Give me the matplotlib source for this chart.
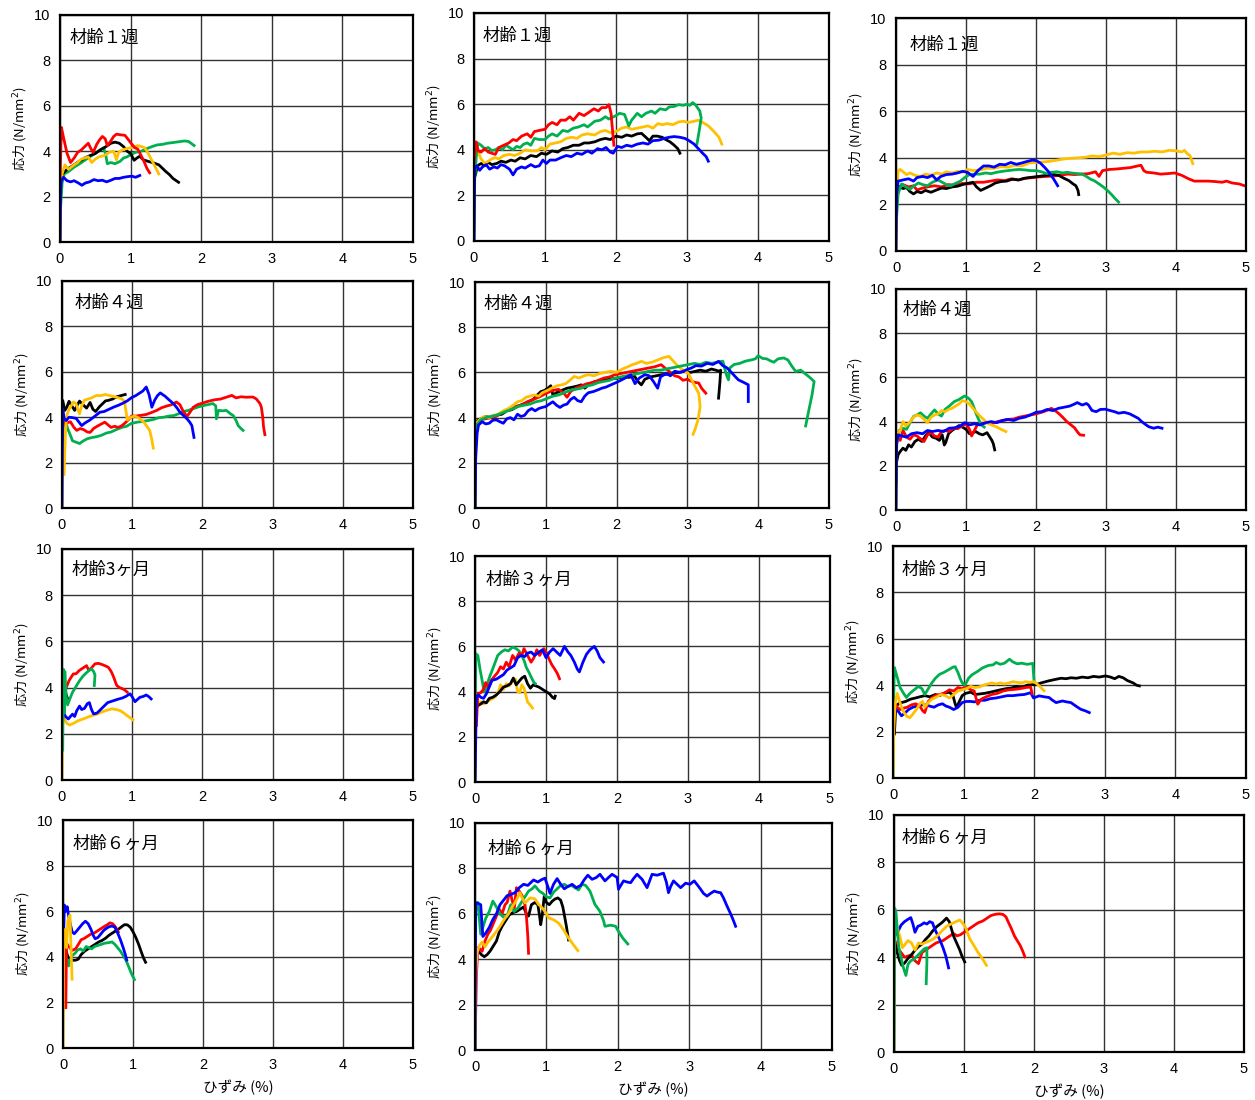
import matplotlib.pyplot as plt

plt.rcParams['font.family'] = ['Noto Sans CJK JP', 'DejaVu Sans']

W, H = 1255, 1100

RED = '#FF0000'
GREEN = '#00B050'
BLUE = '#0000FF'
YELLOW = '#FFC000'
BLACK = '#000000'

# (strain %, stress N/mm2)
# ---- row 1 : 1 week ----
r1a_red = [(0.0, 2.7), (0.02, 5.05), (0.05, 4.6), (0.1, 3.9), (0.15, 3.5), (0.2, 3.7), (0.25, 3.95), (0.3, 4.05),
           (0.35, 4.2), (0.4, 4.35), (0.44, 4.1), (0.47, 3.95), (0.52, 4.3), (0.56, 4.5), (0.6, 4.65), (0.64, 4.55),
           (0.67, 4.25), (0.72, 4.45), (0.76, 4.65), (0.8, 4.75), (0.86, 4.72), (0.92, 4.7), (0.97, 4.5), (1.02, 4.3),
           (1.06, 4.15), (1.1, 4.1), (1.15, 3.8), (1.19, 3.55), (1.23, 3.25), (1.27, 3.05)]
r1a_black = [(0.0, 0.0), (0.01, 2.9), (0.05, 3.05), (0.1, 3.2), (0.15, 3.3), (0.2, 3.4), (0.27, 3.55), (0.35, 3.7),
             (0.42, 3.8), (0.5, 3.9), (0.57, 4.05), (0.65, 4.2), (0.72, 4.35), (0.78, 4.4), (0.84, 4.35), (0.9, 4.2),
             (0.95, 4.0), (1.0, 3.9), (1.05, 3.6), (1.09, 3.7), (1.13, 3.78), (1.18, 3.62), (1.25, 3.55), (1.33, 3.48),
             (1.4, 3.4), (1.45, 3.25), (1.5, 3.1), (1.55, 2.97), (1.6, 2.8), (1.68, 2.63)]
r1a_green = [(0.01, 1.6), (0.03, 2.6), (0.06, 3.0), (0.12, 3.1), (0.2, 3.3), (0.28, 3.45), (0.35, 3.6), (0.42, 3.75),
             (0.5, 3.9), (0.56, 4.05), (0.62, 4.15), (0.65, 3.8), (0.67, 3.45), (0.72, 3.5), (0.78, 3.45), (0.85, 3.55),
             (0.9, 3.7), (0.95, 3.75), (1.0, 3.85), (1.07, 3.95), (1.15, 4.0), (1.22, 4.1), (1.3, 4.2), (1.38, 4.28),
             (1.45, 4.3), (1.52, 4.35), (1.6, 4.38), (1.69, 4.42), (1.76, 4.45), (1.82, 4.43), (1.9, 4.25)]
r1a_yellow = [(0.0, 0.0), (0.01, 2.5), (0.03, 3.0), (0.07, 3.4), (0.12, 3.2), (0.18, 3.35), (0.25, 3.5), (0.3, 3.65),
              (0.35, 3.7), (0.4, 3.75), (0.45, 3.5), (0.5, 3.65), (0.55, 3.75), (0.62, 3.8), (0.7, 3.95), (0.76, 4.0),
              (0.8, 3.62), (0.83, 3.95), (0.88, 4.05), (0.95, 4.12), (1.02, 4.15), (1.1, 4.25), (1.16, 4.2),
              (1.2, 4.15), (1.25, 3.9), (1.3, 3.6), (1.35, 3.3), (1.4, 3.0)]
r1a_blue = [(0.0, 0.0), (0.01, 2.3), (0.02, 2.7), (0.05, 2.85), (0.1, 2.7), (0.15, 2.65), (0.2, 2.7), (0.26, 2.6),
            (0.31, 2.5), (0.36, 2.6), (0.42, 2.65), (0.48, 2.75), (0.54, 2.7), (0.6, 2.72), (0.66, 2.65), (0.72, 2.72),
            (0.78, 2.8), (0.84, 2.8), (0.9, 2.85), (0.96, 2.88), (1.02, 2.9), (1.07, 2.85), (1.13, 2.93)]

r1b_red = [(0.0, 3.5), (0.03, 4.35), (0.06, 3.95), (0.1, 3.9), (0.15, 4.05), (0.2, 3.9), (0.25, 3.85), (0.3, 3.8),
           (0.35, 4.1), (0.42, 4.2), (0.49, 4.3), (0.55, 4.45), (0.6, 4.4), (0.67, 4.6), (0.75, 4.7), (0.8, 4.55),
           (0.85, 4.8), (0.92, 4.85), (1.0, 4.9), (1.05, 5.1), (1.1, 5.2), (1.17, 5.1), (1.22, 5.3), (1.29, 5.3),
           (1.35, 5.45), (1.4, 5.3), (1.48, 5.6), (1.55, 5.5), (1.62, 5.65), (1.69, 5.8), (1.75, 5.7), (1.8, 5.85),
           (1.86, 5.85), (1.9, 5.98), (1.93, 5.6), (1.95, 4.9), (1.97, 4.2)]
r1b_green = [(0.0, 0.0), (0.01, 2.7), (0.03, 3.6), (0.05, 4.3), (0.1, 4.2), (0.15, 4.05), (0.2, 4.1), (0.25, 3.97),
             (0.3, 4.0), (0.35, 4.1), (0.4, 4.0), (0.45, 4.2), (0.5, 4.1), (0.55, 4.0), (0.6, 4.15), (0.65, 4.1),
             (0.7, 4.25), (0.75, 4.3), (0.8, 4.2), (0.85, 4.5), (0.92, 4.45), (1.0, 4.45), (1.05, 4.6), (1.1, 4.7),
             (1.17, 4.6), (1.25, 4.85), (1.32, 4.8), (1.4, 4.95), (1.47, 5.0), (1.55, 5.1), (1.6, 5.0), (1.7, 5.25),
             (1.78, 5.3), (1.85, 5.45), (1.9, 5.35), (2.0, 5.5), (2.05, 5.6), (2.12, 5.55), (2.18, 5.05), (2.22, 5.3),
             (2.3, 5.6), (2.36, 5.45), (2.42, 5.6), (2.5, 5.7), (2.55, 5.6), (2.62, 5.8), (2.7, 5.75), (2.75, 5.88),
             (2.82, 5.9), (2.88, 5.98), (2.95, 5.95), (3.0, 6.0), (3.04, 5.95), (3.08, 6.07), (3.12, 5.97),
             (3.18, 5.7), (3.2, 5.4), (3.17, 4.8), (3.14, 4.25)]
r1b_yellow = [(0.0, 3.5), (0.02, 3.75), (0.05, 3.95), (0.1, 3.6), (0.15, 3.4), (0.2, 3.5), (0.25, 3.6), (0.3, 3.65),
              (0.35, 3.6), (0.42, 3.75), (0.5, 3.8), (0.57, 3.75), (0.65, 3.85), (0.72, 4.0), (0.8, 3.95), (0.89, 3.95),
              (0.95, 4.1), (1.0, 4.0), (1.07, 4.25), (1.15, 4.3), (1.22, 4.35), (1.3, 4.5), (1.38, 4.55), (1.45, 4.5),
              (1.52, 4.65), (1.6, 4.7), (1.7, 4.65), (1.78, 4.8), (1.85, 4.85), (1.92, 4.75), (2.0, 4.8), (2.08, 4.95),
              (2.15, 5.0), (2.22, 4.9), (2.3, 4.95), (2.38, 5.0), (2.45, 5.05), (2.52, 4.95), (2.59, 5.15), (2.65, 5.1),
              (2.72, 5.15), (2.8, 5.1), (2.88, 5.22), (2.95, 5.25), (3.02, 5.2), (3.1, 5.25), (3.16, 5.3), (3.22, 5.2),
              (3.3, 5.05), (3.38, 4.8), (3.45, 4.55), (3.49, 4.25)]
r1b_blue = [(0.0, 0.0), (0.01, 3.2), (0.04, 3.3), (0.08, 3.1), (0.12, 3.25), (0.17, 3.35), (0.22, 3.15), (0.28, 3.25),
            (0.33, 3.2), (0.38, 3.35), (0.43, 3.3), (0.5, 3.15), (0.55, 2.9), (0.6, 3.15), (0.67, 3.25), (0.72, 3.2),
            (0.8, 3.35), (0.86, 3.25), (0.92, 3.3), (0.97, 3.55), (1.02, 3.4), (1.07, 3.55), (1.15, 3.55), (1.22, 3.65),
            (1.3, 3.75), (1.37, 3.7), (1.45, 3.85), (1.52, 3.8), (1.6, 3.95), (1.66, 3.85), (1.74, 4.05), (1.8, 4.0),
            (1.86, 4.1), (1.92, 3.9), (1.96, 3.85), (2.02, 4.15), (2.08, 4.1), (2.15, 4.2), (2.22, 4.15), (2.3, 4.25),
            (2.38, 4.3), (2.45, 4.25), (2.52, 4.4), (2.6, 4.42), (2.68, 4.5), (2.75, 4.55), (2.82, 4.58), (2.9, 4.55),
            (2.97, 4.5), (3.03, 4.4), (3.1, 4.25), (3.16, 4.05), (3.22, 3.85), (3.27, 3.7), (3.3, 3.5)]
r1b_black = [(0.02, 2.9), (0.05, 3.3), (0.1, 3.4), (0.15, 3.3), (0.2, 3.45), (0.25, 3.35), (0.32, 3.4), (0.38, 3.5),
             (0.45, 3.45), (0.52, 3.55), (0.58, 3.5), (0.65, 3.65), (0.72, 3.6), (0.8, 3.75), (0.88, 3.7), (0.95, 3.85),
             (1.02, 3.8), (1.1, 3.95), (1.18, 3.9), (1.25, 4.05), (1.32, 4.1), (1.4, 4.2), (1.48, 4.2), (1.55, 4.3),
             (1.62, 4.3), (1.7, 4.35), (1.78, 4.45), (1.85, 4.5), (1.92, 4.45), (2.0, 4.6), (2.08, 4.55), (2.15, 4.65),
             (2.22, 4.6), (2.3, 4.7), (2.36, 4.72), (2.42, 4.55), (2.47, 4.4), (2.52, 4.6), (2.58, 4.6), (2.65, 4.55),
             (2.7, 4.45), (2.76, 4.35), (2.82, 4.2), (2.87, 4.05), (2.9, 3.85)]

r1c_yellow = [(0.0, 0.0), (0.01, 2.3), (0.03, 3.45), (0.06, 3.5), (0.1, 3.4), (0.15, 3.28), (0.2, 3.35), (0.27, 3.25),
              (0.35, 3.2), (0.42, 3.3), (0.5, 3.25), (0.58, 3.35), (0.65, 3.3), (0.72, 3.4), (0.8, 3.35), (0.88, 3.42),
              (0.95, 3.38), (1.02, 3.5), (1.1, 3.45), (1.2, 3.48), (1.3, 3.55), (1.4, 3.55), (1.5, 3.62), (1.6, 3.6),
              (1.7, 3.68), (1.8, 3.65), (1.9, 3.78), (2.0, 3.8), (2.1, 3.82), (2.2, 3.85), (2.3, 3.9), (2.4, 3.95),
              (2.5, 3.98), (2.6, 4.0), (2.7, 4.02), (2.8, 4.08), (2.9, 4.05), (3.0, 4.12), (3.1, 4.2), (3.2, 4.15),
              (3.3, 4.22), (3.4, 4.2), (3.5, 4.25), (3.6, 4.25), (3.7, 4.28), (3.8, 4.25), (3.9, 4.32), (4.0, 4.3),
              (4.08, 4.25), (4.12, 4.32), (4.17, 4.15), (4.2, 4.1), (4.24, 3.75)]
r1c_red = [(0.02, 2.3), (0.04, 2.75), (0.1, 2.85), (0.18, 2.75), (0.25, 2.8), (0.3, 2.62), (0.38, 2.7), (0.45, 2.75),
           (0.55, 2.8), (0.65, 2.75), (0.75, 2.85), (0.85, 2.82), (0.95, 2.9), (1.05, 2.88), (1.15, 2.95), (1.25, 2.95),
           (1.35, 3.0), (1.45, 3.05), (1.55, 3.02), (1.65, 3.1), (1.75, 3.05), (1.85, 3.12), (1.95, 3.15), (2.05, 3.18),
           (2.15, 3.2), (2.25, 3.22), (2.35, 3.25), (2.45, 3.3), (2.55, 3.28), (2.65, 3.3), (2.75, 3.32), (2.85, 3.4),
           (2.9, 3.2), (2.95, 3.45), (3.05, 3.5), (3.15, 3.52), (3.25, 3.55), (3.35, 3.58), (3.45, 3.65), (3.5, 3.68),
           (3.54, 3.45), (3.58, 3.38), (3.68, 3.35), (3.78, 3.3), (3.88, 3.32), (3.98, 3.35), (4.08, 3.25),
           (4.18, 3.1), (4.26, 3.0), (4.36, 3.0), (4.46, 3.0), (4.56, 2.98), (4.66, 2.95), (4.72, 3.0), (4.8, 2.92),
           (4.9, 2.88), (4.98, 2.8)]
r1c_blue = [(0.0, 0.0), (0.01, 2.4), (0.03, 3.0), (0.1, 3.05), (0.18, 3.1), (0.25, 3.0), (0.3, 3.15), (0.38, 3.2),
            (0.45, 3.15), (0.52, 3.25), (0.58, 3.05), (0.64, 3.2), (0.72, 3.28), (0.8, 3.3), (0.88, 3.35), (0.95, 3.42),
            (1.02, 3.38), (1.1, 3.2), (1.17, 3.45), (1.25, 3.65), (1.33, 3.65), (1.4, 3.6), (1.48, 3.72), (1.56, 3.7),
            (1.64, 3.8), (1.72, 3.72), (1.8, 3.78), (1.88, 3.85), (1.95, 3.9), (2.0, 3.88), (2.06, 3.78), (2.12, 3.6),
            (2.18, 3.4), (2.25, 3.1), (2.31, 2.8)]
r1c_black = [(0.02, 2.6), (0.05, 2.75), (0.1, 2.68), (0.15, 2.72), (0.2, 2.55), (0.25, 2.45), (0.3, 2.55), (0.36, 2.5),
             (0.42, 2.6), (0.5, 2.52), (0.58, 2.62), (0.65, 2.7), (0.72, 2.68), (0.8, 2.75), (0.88, 2.78), (0.95, 2.85),
             (1.02, 2.9), (1.1, 2.95), (1.15, 2.75), (1.21, 2.6), (1.28, 2.7), (1.35, 2.8), (1.42, 2.92), (1.5, 2.98),
             (1.58, 3.0), (1.66, 3.08), (1.75, 3.05), (1.83, 3.12), (1.9, 3.15), (1.98, 3.18), (2.08, 3.22),
             (2.16, 3.25), (2.25, 3.28), (2.32, 3.25), (2.4, 3.12), (2.47, 3.02), (2.52, 2.9), (2.57, 2.8), (2.6, 2.6),
             (2.61, 2.42)]
r1c_green = [(0.01, 1.5), (0.03, 2.45), (0.08, 2.88), (0.14, 2.75), (0.2, 2.65), (0.26, 2.8), (0.32, 2.92), (0.38, 2.85),
             (0.45, 2.8), (0.52, 2.95), (0.6, 3.05), (0.66, 2.95), (0.72, 2.85), (0.78, 2.8), (0.85, 2.9), (0.92, 3.0),
             (0.98, 3.15), (1.05, 3.28), (1.12, 3.3), (1.2, 3.3), (1.28, 3.35), (1.36, 3.32), (1.44, 3.38),
             (1.52, 3.42), (1.6, 3.45), (1.68, 3.48), (1.76, 3.5), (1.84, 3.48), (1.92, 3.45), (2.0, 3.45),
             (2.08, 3.4), (2.15, 3.32), (2.22, 3.38), (2.3, 3.4), (2.38, 3.35), (2.45, 3.38), (2.52, 3.34), (2.6, 3.32),
             (2.66, 3.3), (2.72, 3.2), (2.78, 3.08), (2.83, 3.02), (2.9, 2.88), (2.96, 2.75), (3.02, 2.6),
             (3.08, 2.42), (3.13, 2.25), (3.18, 2.1)]

# ---- row 2 : 4 weeks ----
r2a_red = [(0.01, 3.5), (0.03, 3.9), (0.07, 3.75), (0.12, 3.8), (0.17, 3.55), (0.21, 3.42), (0.26, 3.5), (0.31, 3.45),
           (0.36, 3.35), (0.4, 3.33), (0.45, 3.5), (0.5, 3.6), (0.56, 3.7), (0.61, 3.78), (0.66, 3.65), (0.7, 3.55),
           (0.75, 3.6), (0.8, 3.55), (0.85, 3.62), (0.9, 3.75), (0.95, 3.9), (0.99, 4.05), (1.05, 4.05), (1.12, 4.08),
           (1.2, 4.12), (1.27, 4.2), (1.35, 4.3), (1.42, 4.42), (1.5, 4.5), (1.56, 4.55), (1.63, 4.67), (1.68, 4.55),
           (1.72, 4.3), (1.78, 4.03), (1.83, 4.25), (1.87, 4.44), (1.93, 4.55), (2.0, 4.62), (2.08, 4.7), (2.18, 4.77),
           (2.26, 4.8), (2.34, 4.88), (2.42, 4.96), (2.48, 4.85), (2.55, 4.9), (2.62, 4.88), (2.72, 4.89), (2.77, 4.8),
           (2.82, 4.6), (2.84, 4.44), (2.86, 4.0), (2.87, 3.6), (2.89, 3.23)]
r2a_blue = [(0.0, 0.0), (0.01, 4.37), (0.03, 3.95), (0.06, 3.85), (0.1, 4.0), (0.15, 3.98), (0.2, 3.95), (0.25, 3.75),
            (0.28, 3.63), (0.33, 3.75), (0.4, 3.88), (0.47, 4.05), (0.54, 4.22), (0.6, 4.25), (0.67, 4.35), (0.74, 4.45),
            (0.8, 4.52), (0.87, 4.62), (0.93, 4.72), (0.99, 4.86), (1.05, 4.95), (1.1, 5.05), (1.15, 5.15), (1.2, 5.33),
            (1.24, 5.0), (1.28, 4.44), (1.32, 4.75), (1.36, 4.95), (1.4, 5.07), (1.47, 4.92), (1.53, 4.75),
            (1.59, 4.59), (1.64, 4.4), (1.68, 4.22), (1.74, 4.05), (1.78, 3.93), (1.82, 3.78), (1.85, 3.63),
            (1.88, 3.11)]
r2a_black = [(0.0, 4.4), (0.01, 4.74), (0.04, 4.3), (0.07, 4.45), (0.1, 4.7), (0.14, 4.5), (0.18, 4.3), (0.22, 4.55),
             (0.25, 4.71), (0.3, 4.55), (0.35, 4.4), (0.4, 4.65), (0.44, 4.35), (0.48, 4.25), (0.53, 4.45), (0.58, 4.6),
             (0.62, 4.72), (0.66, 4.74), (0.72, 4.8), (0.78, 4.9), (0.84, 4.95), (0.9, 5.0)]
r2a_yellow = [(0.03, 1.48), (0.05, 3.4), (0.07, 4.1), (0.1, 4.35), (0.13, 4.5), (0.16, 4.67), (0.2, 4.6), (0.23, 4.3),
              (0.25, 4.15), (0.28, 4.5), (0.32, 4.75), (0.37, 4.8), (0.42, 4.85), (0.49, 4.96), (0.55, 4.95),
              (0.62, 5.0), (0.68, 4.95), (0.75, 4.9), (0.81, 4.85), (0.85, 4.81), (0.89, 4.7), (0.91, 4.3),
              (0.93, 3.88), (0.98, 4.0), (1.04, 4.05), (1.1, 3.95), (1.16, 3.8), (1.21, 3.6), (1.25, 3.41),
              (1.28, 3.0), (1.3, 2.64)]
r2a_green = [(0.01, 3.0), (0.02, 3.7), (0.05, 3.85), (0.08, 3.5), (0.12, 3.2), (0.15, 2.96), (0.2, 2.9), (0.25, 2.84),
             (0.3, 2.95), (0.36, 3.05), (0.42, 3.1), (0.49, 3.14), (0.56, 3.2), (0.63, 3.3), (0.7, 3.35), (0.77, 3.45),
             (0.85, 3.55), (0.92, 3.6), (0.99, 3.73), (1.07, 3.78), (1.15, 3.82), (1.22, 3.85), (1.3, 3.9),
             (1.38, 3.98), (1.45, 4.0), (1.52, 4.05), (1.59, 4.07), (1.66, 4.15), (1.73, 4.25), (1.8, 4.3),
             (1.87, 4.38), (1.94, 4.45), (2.0, 4.5), (2.07, 4.55), (2.15, 4.6), (2.19, 4.5), (2.2, 3.93), (2.23, 4.3),
             (2.29, 4.28), (2.34, 4.3), (2.4, 4.15), (2.44, 4.07), (2.48, 3.85), (2.51, 3.63), (2.55, 3.5),
             (2.58, 3.42)]

r2b_black = [(0.0, 0.0), (0.01, 3.0), (0.03, 3.85), (0.08, 3.95), (0.15, 4.05), (0.22, 4.0), (0.3, 4.1), (0.38, 4.15),
             (0.45, 4.3), (0.52, 4.35), (0.6, 4.5), (0.68, 4.6), (0.75, 4.7), (0.82, 4.8), (0.88, 5.0), (0.93, 5.15),
             (0.98, 5.2), (1.03, 5.3), (1.07, 5.41), (1.1, 5.0), (1.15, 5.1), (1.22, 5.2), (1.3, 5.3), (1.38, 5.35),
             (1.45, 5.4), (1.5, 5.45), (1.55, 5.3), (1.62, 5.5), (1.7, 5.6), (1.78, 5.62), (1.86, 5.7), (1.94, 5.72),
             (2.02, 5.75), (2.1, 5.8), (2.18, 5.78), (2.25, 5.85), (2.3, 5.6), (2.35, 5.45), (2.4, 5.7), (2.48, 5.8),
             (2.56, 5.85), (2.64, 5.9), (2.72, 5.92), (2.8, 5.98), (2.88, 6.0), (2.96, 6.05), (3.04, 6.0),
             (3.1, 6.04), (3.18, 6.1), (3.26, 6.05), (3.34, 6.15), (3.4, 6.1), (3.45, 6.05), (3.47, 6.1), (3.46, 5.6),
             (3.44, 4.86)]
r2b_red = [(0.0, 0.0), (0.01, 3.2), (0.03, 3.8), (0.08, 3.9), (0.15, 3.95), (0.22, 4.0), (0.3, 4.05), (0.36, 4.2),
           (0.42, 4.3), (0.5, 4.35), (0.58, 4.5), (0.66, 4.55), (0.74, 4.7), (0.82, 4.8), (0.9, 4.9), (0.96, 5.0),
           (1.02, 5.1), (1.1, 5.2), (1.18, 5.25), (1.25, 5.1), (1.3, 4.9), (1.35, 5.15), (1.42, 5.3), (1.5, 5.4),
           (1.58, 5.5), (1.66, 5.55), (1.74, 5.65), (1.82, 5.75), (1.9, 5.8), (1.98, 5.9), (2.06, 5.95), (2.14, 6.0),
           (2.22, 6.05), (2.3, 6.1), (2.38, 6.15), (2.46, 6.2), (2.54, 6.25), (2.63, 6.34), (2.7, 6.15), (2.76, 6.0),
           (2.82, 5.85), (2.88, 5.8), (2.94, 5.65), (3.0, 5.7), (3.06, 5.6), (3.12, 5.55), (3.16, 5.53), (3.2, 5.3),
           (3.26, 5.08)]
r2b_yellow = [(0.0, 0.0), (0.01, 3.3), (0.03, 3.8), (0.08, 3.95), (0.14, 4.05), (0.2, 4.0), (0.26, 4.1), (0.33, 4.15),
              (0.4, 4.3), (0.47, 4.4), (0.54, 4.55), (0.6, 4.7), (0.66, 4.75), (0.72, 4.9), (0.78, 4.95), (0.84, 5.0),
              (0.9, 4.95), (0.95, 5.1), (1.02, 5.2), (1.08, 5.3), (1.15, 5.4), (1.22, 5.45), (1.28, 5.5), (1.34, 5.65),
              (1.4, 5.82), (1.47, 5.75), (1.54, 5.85), (1.6, 5.9), (1.68, 5.85), (1.76, 5.95), (1.84, 6.0),
              (1.92, 6.05), (2.0, 6.0), (2.08, 6.15), (2.16, 6.25), (2.22, 6.34), (2.28, 6.4), (2.35, 6.49),
              (2.42, 6.4), (2.5, 6.45), (2.58, 6.55), (2.66, 6.65), (2.74, 6.71), (2.8, 6.5), (2.87, 6.27),
              (2.94, 6.1), (3.01, 5.97), (3.06, 5.67), (3.12, 5.3), (3.16, 5.08), (3.18, 4.49), (3.15, 3.9),
              (3.11, 3.5), (3.08, 3.26)]
r2b_green = [(0.0, 0.0), (0.01, 3.0), (0.03, 3.7), (0.08, 3.9), (0.15, 4.0), (0.22, 4.05), (0.3, 4.1), (0.38, 4.2),
             (0.46, 4.3), (0.54, 4.4), (0.62, 4.5), (0.7, 4.55), (0.78, 4.6), (0.86, 4.7), (0.94, 4.75), (1.02, 4.85),
             (1.1, 4.95), (1.18, 5.0), (1.26, 5.1), (1.34, 5.2), (1.42, 5.25), (1.5, 5.3), (1.58, 5.4), (1.66, 5.45),
             (1.74, 5.55), (1.82, 5.6), (1.9, 5.65), (1.98, 5.75), (2.06, 5.8), (2.14, 5.85), (2.22, 5.9),
             (2.3, 5.95), (2.38, 6.0), (2.46, 6.05), (2.54, 6.1), (2.62, 6.1), (2.7, 6.15), (2.78, 6.2), (2.86, 6.25),
             (2.94, 6.3), (3.02, 6.35), (3.1, 6.4), (3.18, 6.35), (3.26, 6.45), (3.34, 6.4), (3.42, 6.45), (3.5, 6.5),
             (3.55, 5.9), (3.58, 5.67), (3.6, 6.2), (3.66, 6.35), (3.74, 6.4), (3.82, 6.5), (3.9, 6.55), (3.96, 6.6),
             (4.0, 6.74), (4.06, 6.62), (4.12, 6.6), (4.18, 6.5), (4.22, 6.45), (4.28, 6.6), (4.36, 6.64),
             (4.42, 6.55), (4.47, 6.3), (4.53, 6.04), (4.6, 6.1), (4.66, 5.95), (4.72, 5.8), (4.79, 5.6), (4.76, 5.0),
             (4.72, 4.4), (4.67, 3.63)]
r2b_blue = [(0.0, 0.0), (0.01, 2.2), (0.03, 3.3), (0.05, 3.67), (0.1, 3.82), (0.15, 3.72), (0.2, 3.75), (0.25, 3.88),
            (0.3, 3.9), (0.35, 3.82), (0.4, 3.75), (0.45, 3.95), (0.5, 4.0), (0.55, 3.9), (0.6, 4.15), (0.65, 4.05),
            (0.7, 4.1), (0.75, 4.3), (0.8, 4.4), (0.85, 4.3), (0.9, 4.4), (0.95, 4.45), (1.0, 4.49), (1.05, 4.6),
            (1.1, 4.7), (1.15, 4.55), (1.2, 4.45), (1.25, 4.55), (1.3, 4.6), (1.35, 4.8), (1.4, 4.9), (1.45, 4.75),
            (1.5, 4.7), (1.55, 4.95), (1.6, 5.1), (1.67, 5.15), (1.73, 5.22), (1.79, 5.3), (1.85, 5.35), (1.92, 5.45),
            (2.0, 5.56), (2.06, 5.65), (2.12, 5.75), (2.2, 5.9), (2.26, 5.5), (2.32, 5.75), (2.4, 5.9), (2.46, 5.85),
            (2.52, 5.6), (2.58, 5.3), (2.62, 5.8), (2.7, 5.95), (2.76, 5.85), (2.82, 6.05), (2.9, 6.0), (2.99, 6.12),
            (3.06, 6.2), (3.12, 6.3), (3.2, 6.28), (3.28, 6.4), (3.36, 6.35), (3.44, 6.49), (3.5, 6.3), (3.56, 6.2),
            (3.63, 5.97), (3.68, 5.8), (3.72, 5.67), (3.8, 5.55), (3.86, 5.45), (3.86, 4.71)]

r2c_red = [(0.01, 3.5), (0.03, 3.3), (0.06, 3.15), (0.1, 3.6), (0.15, 3.3), (0.2, 3.2), (0.25, 3.4), (0.3, 3.35),
           (0.36, 3.2), (0.4, 3.1), (0.45, 3.4), (0.5, 3.5), (0.55, 3.35), (0.6, 3.3), (0.65, 3.55), (0.7, 3.6),
           (0.76, 3.55), (0.82, 3.7), (0.88, 3.68), (0.94, 3.8), (1.0, 3.9), (1.05, 3.65), (1.08, 3.35), (1.12, 3.6),
           (1.16, 3.85), (1.22, 3.9), (1.3, 3.95), (1.38, 3.92), (1.45, 4.0), (1.52, 4.05), (1.6, 4.1), (1.68, 4.12),
           (1.76, 4.2), (1.84, 4.25), (1.92, 4.3), (2.0, 4.35), (2.08, 4.42), (2.15, 4.5), (2.22, 4.6), (2.28, 4.48),
           (2.32, 4.38), (2.38, 4.2), (2.44, 4.0), (2.5, 3.85), (2.55, 3.72), (2.6, 3.5), (2.63, 3.4), (2.68, 3.38)]
r2c_black = [(0.01, 2.2), (0.03, 2.5), (0.06, 2.65), (0.1, 2.8), (0.14, 2.7), (0.18, 2.95), (0.22, 2.85), (0.27, 3.1),
             (0.32, 3.2), (0.37, 3.1), (0.42, 3.35), (0.47, 3.5), (0.52, 3.3), (0.57, 3.25), (0.62, 3.15), (0.66, 3.4),
             (0.69, 2.94), (0.71, 3.05), (0.75, 3.45), (0.8, 3.6), (0.85, 3.7), (0.9, 3.82), (0.95, 3.75), (1.0, 3.65),
             (1.05, 3.45), (1.1, 3.5), (1.14, 3.55), (1.19, 3.45), (1.24, 3.4), (1.3, 3.5), (1.34, 3.3), (1.37, 3.15),
             (1.39, 3.0), (1.41, 2.72)]
r2c_green = [(0.0, 1.2), (0.01, 3.0), (0.05, 3.62), (0.1, 3.7), (0.15, 3.65), (0.2, 3.95), (0.25, 4.23), (0.3, 4.3),
             (0.35, 4.4), (0.4, 4.25), (0.45, 4.15), (0.5, 4.35), (0.55, 4.53), (0.6, 4.35), (0.65, 4.25), (0.7, 4.55),
             (0.76, 4.7), (0.83, 4.9), (0.9, 5.0), (0.98, 5.16), (1.04, 5.05), (1.08, 4.9), (1.1, 4.75), (1.14, 4.4),
             (1.18, 4.1), (1.22, 3.85), (1.26, 3.75)]
r2c_yellow = [(0.01, 3.0), (0.03, 3.5), (0.06, 3.6), (0.1, 4.0), (0.14, 3.8), (0.19, 3.95), (0.25, 4.2), (0.3, 4.3),
              (0.35, 4.25), (0.4, 4.1), (0.45, 3.95), (0.5, 4.2), (0.55, 4.3), (0.6, 4.35), (0.65, 4.5), (0.7, 4.45),
              (0.75, 4.55), (0.8, 4.6), (0.85, 4.7), (0.9, 4.8), (0.95, 4.95), (1.0, 4.9), (1.05, 4.8), (1.1, 4.6),
              (1.14, 4.45), (1.2, 4.25), (1.25, 4.1), (1.3, 3.95), (1.36, 3.85), (1.43, 3.77), (1.5, 3.65),
              (1.57, 3.55)]
r2c_blue = [(0.0, 0.0), (0.01, 3.0), (0.03, 3.4), (0.08, 3.35), (0.15, 3.3), (0.22, 3.45), (0.3, 3.5), (0.38, 3.45),
            (0.45, 3.6), (0.52, 3.55), (0.6, 3.6), (0.68, 3.55), (0.76, 3.7), (0.84, 3.72), (0.92, 3.8), (0.98, 3.95),
            (1.05, 3.85), (1.12, 3.9), (1.2, 3.85), (1.28, 3.95), (1.36, 4.0), (1.44, 3.95), (1.52, 4.05), (1.6, 4.1),
            (1.68, 4.05), (1.76, 4.15), (1.84, 4.2), (1.92, 4.3), (2.0, 4.42), (2.08, 4.45), (2.16, 4.55),
            (2.24, 4.5), (2.32, 4.6), (2.4, 4.65), (2.48, 4.7), (2.54, 4.78), (2.59, 4.86), (2.66, 4.75), (2.72, 4.82),
            (2.75, 4.75), (2.8, 4.5), (2.86, 4.45), (2.92, 4.55), (2.99, 4.56), (3.06, 4.5), (3.12, 4.45),
            (3.18, 4.38), (3.26, 4.42), (3.34, 4.35), (3.4, 4.25), (3.46, 4.15), (3.51, 4.0), (3.56, 3.88),
            (3.61, 3.77), (3.68, 3.7), (3.74, 3.75), (3.8, 3.7)]

# ---- row 3 : 3 months ----
r3a_red = [(0.06, 4.0), (0.1, 4.3), (0.16, 4.59), (0.2, 4.6), (0.25, 4.75), (0.3, 4.85), (0.35, 4.95), (0.38, 4.75),
           (0.42, 4.85), (0.47, 5.03), (0.52, 5.05), (0.57, 5.0), (0.61, 4.95), (0.66, 4.88), (0.7, 4.7), (0.73, 4.5),
           (0.76, 4.25), (0.78, 4.09), (0.82, 4.0), (0.87, 3.94), (0.9, 3.88), (0.93, 3.8)]
r3a_green = [(0.01, 1.3), (0.02, 4.8), (0.03, 2.9), (0.04, 4.7), (0.06, 3.6), (0.08, 3.25), (0.11, 3.5), (0.15, 3.8),
             (0.2, 4.05), (0.25, 4.3), (0.3, 4.5), (0.35, 4.65), (0.39, 4.75), (0.42, 4.81), (0.45, 4.7), (0.47, 4.55),
             (0.46, 4.09)]
r3a_blue = [(0.02, 2.93), (0.05, 2.75), (0.09, 2.64), (0.12, 2.75), (0.15, 2.85), (0.18, 2.75), (0.21, 3.0),
            (0.25, 3.2), (0.28, 3.05), (0.32, 3.1), (0.36, 3.3), (0.39, 3.35), (0.42, 3.05), (0.45, 2.86), (0.5, 2.9),
            (0.55, 3.05), (0.6, 3.2), (0.65, 3.35), (0.7, 3.4), (0.75, 3.45), (0.8, 3.5), (0.86, 3.55), (0.91, 3.62),
            (0.97, 3.73), (1.0, 3.6), (1.04, 3.39), (1.08, 3.5), (1.11, 3.58), (1.16, 3.62), (1.2, 3.68), (1.24, 3.6),
            (1.27, 3.51)]
r3a_yellow = [(0.0, 0.0), (0.01, 2.85), (0.04, 2.6), (0.07, 2.45), (0.11, 2.38), (0.16, 2.45), (0.22, 2.55),
              (0.28, 2.62), (0.35, 2.7), (0.42, 2.78), (0.5, 2.85), (0.57, 2.95), (0.64, 3.02), (0.71, 3.08),
              (0.77, 3.05), (0.83, 3.0), (0.88, 2.9), (0.93, 2.78), (0.97, 2.7), (1.01, 2.6)]
r3a_black = [(0.03, 3.3), (0.05, 3.8), (0.07, 3.6), (0.09, 3.45)]

r3b_green = [(0.0, 0.0), (0.01, 5.68), (0.04, 5.6), (0.07, 5.0), (0.1, 4.5), (0.13, 3.98), (0.16, 4.2), (0.2, 4.6),
             (0.26, 5.09), (0.32, 5.6), (0.37, 5.75), (0.42, 5.85), (0.47, 5.8), (0.53, 5.97), (0.58, 5.9), (0.62, 5.8),
             (0.66, 5.6), (0.7, 5.3), (0.72, 5.09), (0.76, 4.85), (0.79, 4.65), (0.83, 4.4), (0.85, 4.35)]
r3b_red = [(0.02, 2.5), (0.04, 3.9), (0.08, 3.95), (0.12, 4.1), (0.15, 4.4), (0.19, 4.2), (0.23, 4.5), (0.28, 4.7),
           (0.32, 4.85), (0.36, 5.1), (0.4, 5.0), (0.44, 5.3), (0.48, 5.1), (0.53, 5.6), (0.57, 5.4), (0.62, 5.7),
           (0.66, 5.6), (0.69, 5.9), (0.74, 5.6), (0.79, 5.3), (0.83, 5.5), (0.87, 5.85), (0.91, 5.6), (0.95, 5.8),
           (0.97, 5.9), (1.01, 5.7), (1.04, 5.46), (1.08, 5.2), (1.12, 5.01), (1.16, 4.8), (1.19, 4.57)]
r3b_black = [(0.02, 3.3), (0.05, 3.4), (0.08, 3.45), (0.12, 3.55), (0.16, 3.5), (0.2, 3.7), (0.25, 3.75), (0.3, 3.85),
             (0.35, 4.0), (0.4, 4.2), (0.45, 4.25), (0.5, 4.35), (0.54, 4.6), (0.58, 4.3), (0.62, 4.45), (0.66, 4.6),
             (0.7, 4.68), (0.74, 4.35), (0.78, 4.15), (0.82, 4.3), (0.86, 4.25), (0.9, 4.2), (0.95, 4.1), (1.0, 4.0),
             (1.05, 3.9), (1.09, 3.75), (1.12, 3.69), (1.13, 3.8)]
r3b_yellow = [(0.0, 0.0), (0.01, 3.17), (0.04, 3.45), (0.08, 3.55), (0.12, 3.45), (0.17, 3.55), (0.22, 3.65),
              (0.28, 3.75), (0.33, 4.0), (0.36, 4.3), (0.4, 4.1), (0.44, 4.35), (0.48, 4.25), (0.53, 4.45),
              (0.57, 4.55), (0.6, 4.0), (0.63, 3.95), (0.66, 4.3), (0.69, 4.15), (0.72, 3.8), (0.74, 3.54),
              (0.78, 3.4), (0.81, 3.27)]
r3b_blue = [(0.0, 0.0), (0.02, 3.76), (0.05, 3.85), (0.08, 3.75), (0.12, 3.7), (0.16, 3.9), (0.2, 4.2), (0.24, 4.5),
            (0.3, 4.55), (0.35, 4.65), (0.4, 4.75), (0.45, 4.95), (0.5, 5.05), (0.55, 5.15), (0.6, 5.5), (0.65, 5.6),
            (0.7, 5.55), (0.74, 5.7), (0.79, 5.75), (0.84, 5.6), (0.9, 5.75), (0.95, 5.85), (1.0, 5.5), (1.05, 5.75),
            (1.1, 5.9), (1.15, 5.75), (1.2, 5.6), (1.26, 6.0), (1.31, 5.75), (1.35, 5.6), (1.4, 5.3), (1.44, 5.0),
            (1.47, 4.87), (1.52, 5.3), (1.57, 5.65), (1.62, 5.85), (1.68, 6.0), (1.72, 5.8), (1.76, 5.5),
            (1.81, 5.31)]

r3c_green = [(0.0, 0.0), (0.01, 3.5), (0.02, 4.76), (0.05, 4.45), (0.1, 3.9), (0.15, 3.65), (0.19, 3.47), (0.24, 3.65),
             (0.3, 3.8), (0.36, 3.95), (0.41, 3.85), (0.45, 3.6), (0.5, 3.85), (0.55, 4.1), (0.6, 4.3), (0.66, 4.47),
             (0.72, 4.55), (0.8, 4.69), (0.85, 4.78), (0.88, 4.8), (0.92, 4.55), (0.95, 4.3), (0.98, 4.1), (1.02, 4.0),
             (1.07, 4.3), (1.12, 4.45), (1.2, 4.6), (1.27, 4.75), (1.35, 4.85), (1.42, 4.88), (1.46, 4.98),
             (1.52, 4.9), (1.58, 4.95), (1.65, 5.12), (1.7, 5.0), (1.76, 4.92), (1.82, 4.95), (1.9, 4.9), (1.98, 4.94),
             (1.99, 4.5), (2.0, 4.12)]
r3c_black = [(0.02, 1.9), (0.04, 3.1), (0.08, 3.2), (0.12, 3.25), (0.18, 3.3), (0.25, 3.4), (0.32, 3.45), (0.38, 3.5),
             (0.45, 3.55), (0.52, 3.5), (0.6, 3.6), (0.66, 3.55), (0.72, 3.65), (0.8, 3.7), (0.85, 3.55), (0.88, 3.2),
             (0.9, 3.04), (0.94, 3.3), (0.98, 3.55), (1.03, 3.65), (1.1, 3.7), (1.16, 3.6), (1.22, 3.62), (1.3, 3.65),
             (1.38, 3.7), (1.45, 3.75), (1.52, 3.8), (1.6, 3.85), (1.68, 3.88), (1.75, 3.95), (1.82, 3.9), (1.9, 4.0),
             (1.96, 4.05), (2.02, 4.02), (2.1, 4.1), (2.16, 4.15), (2.21, 4.19), (2.3, 4.25), (2.38, 4.3),
             (2.45, 4.28), (2.52, 4.32), (2.6, 4.3), (2.68, 4.35), (2.76, 4.32), (2.84, 4.38), (2.92, 4.35),
             (3.01, 4.4), (3.08, 4.35), (3.14, 4.28), (3.2, 4.38), (3.26, 4.32), (3.32, 4.2), (3.4, 4.1), (3.45, 4.0),
             (3.49, 3.97)]
r3c_red = [(0.03, 3.2), (0.06, 3.05), (0.1, 2.95), (0.14, 3.0), (0.2, 3.05), (0.26, 3.15), (0.32, 3.2), (0.38, 3.1),
           (0.42, 2.9), (0.45, 2.82), (0.5, 3.3), (0.55, 3.45), (0.6, 3.55), (0.66, 3.6), (0.72, 3.65), (0.8, 3.8),
           (0.86, 3.75), (0.92, 3.9), (0.98, 3.85), (1.04, 3.95), (1.1, 3.8), (1.15, 3.75), (1.18, 3.4), (1.2, 3.18),
           (1.25, 3.4), (1.32, 3.5), (1.4, 3.6), (1.48, 3.65), (1.56, 3.75), (1.64, 3.8), (1.72, 3.82), (1.8, 3.85),
           (1.88, 3.9), (1.95, 3.92), (1.97, 3.65)]
r3c_blue = [(0.02, 2.9), (0.05, 3.0), (0.08, 2.85), (0.12, 2.68), (0.17, 2.8), (0.22, 2.95), (0.28, 3.05), (0.34, 3.1),
            (0.4, 3.15), (0.46, 3.15), (0.52, 3.1), (0.58, 3.05), (0.64, 3.15), (0.7, 3.2), (0.75, 3.1), (0.8, 3.05),
            (0.86, 2.95), (0.92, 3.05), (0.98, 3.25), (1.04, 3.3), (1.1, 3.3), (1.16, 3.28), (1.22, 3.35), (1.3, 3.35),
            (1.38, 3.42), (1.46, 3.45), (1.54, 3.5), (1.62, 3.55), (1.7, 3.55), (1.78, 3.58), (1.86, 3.6),
            (1.92, 3.65), (1.95, 3.68), (1.99, 3.45), (2.07, 3.54), (2.14, 3.5), (2.21, 3.47), (2.26, 3.35),
            (2.31, 3.25), (2.4, 3.32), (2.46, 3.28), (2.52, 3.25), (2.59, 3.1), (2.66, 2.96), (2.72, 2.9),
            (2.78, 2.82)]
r3c_yellow = [(0.0, 0.0), (0.01, 2.0), (0.03, 3.2), (0.06, 3.65), (0.09, 3.35), (0.12, 3.05), (0.16, 2.8), (0.2, 2.65),
              (0.24, 2.6), (0.28, 2.75), (0.33, 2.95), (0.38, 3.2), (0.42, 3.3), (0.45, 3.05), (0.5, 3.25),
              (0.55, 3.4), (0.62, 3.5), (0.68, 3.6), (0.74, 3.55), (0.8, 3.45), (0.86, 3.6), (0.92, 3.75), (0.98, 3.8),
              (1.04, 3.85), (1.1, 3.95), (1.16, 3.9), (1.22, 3.92), (1.28, 4.0), (1.34, 4.05), (1.4, 4.1),
              (1.46, 4.05), (1.52, 4.1), (1.58, 4.05), (1.64, 4.1), (1.7, 4.15), (1.76, 4.12), (1.82, 4.1),
              (1.88, 4.15), (1.94, 4.12), (2.0, 4.15), (2.04, 4.05), (2.08, 3.95), (2.11, 3.85), (2.14, 3.76)]

# ---- row 4 : 6 months ----
r4a_black = [(0.04, 4.3), (0.07, 4.0), (0.1, 3.9), (0.14, 3.85), (0.18, 3.85), (0.22, 3.9), (0.26, 4.1), (0.31, 4.25),
             (0.36, 4.35), (0.41, 4.45), (0.46, 4.55), (0.51, 4.65), (0.56, 4.72), (0.61, 4.82), (0.66, 4.95),
             (0.71, 5.05), (0.76, 5.15), (0.81, 5.25), (0.85, 5.35), (0.88, 5.41), (0.92, 5.4), (0.96, 5.3),
             (1.0, 5.1), (1.04, 4.85), (1.08, 4.55), (1.12, 4.2), (1.15, 3.95), (1.18, 3.76)]
r4a_red = [(0.04, 1.77), (0.05, 4.6), (0.08, 4.45), (0.13, 4.28), (0.18, 4.35), (0.22, 4.55), (0.26, 4.75), (0.3, 4.8),
           (0.35, 4.9), (0.4, 5.0), (0.45, 5.05), (0.5, 5.15), (0.55, 5.25), (0.6, 5.35), (0.64, 5.42), (0.67, 5.49),
           (0.71, 5.45), (0.74, 5.35), (0.77, 5.2), (0.79, 5.09)]
r4a_green = [(0.02, 4.5), (0.04, 4.1), (0.06, 3.8), (0.08, 3.6), (0.1, 3.85), (0.13, 4.05), (0.17, 4.15), (0.21, 4.3),
             (0.25, 4.35), (0.29, 4.25), (0.33, 4.45), (0.37, 4.4), (0.41, 4.35), (0.45, 4.45), (0.5, 4.5),
             (0.55, 4.55), (0.6, 4.6), (0.65, 4.62), (0.7, 4.65), (0.74, 4.55), (0.78, 4.4), (0.82, 4.25),
             (0.86, 4.05), (0.9, 3.85), (0.94, 3.55), (0.98, 3.25), (1.02, 3.0)]
r4a_blue = [(0.01, 5.1), (0.02, 6.27), (0.04, 6.0), (0.06, 6.2), (0.08, 5.8), (0.1, 5.5), (0.13, 5.1), (0.16, 5.01),
            (0.2, 5.15), (0.24, 5.3), (0.28, 5.45), (0.32, 5.56), (0.36, 5.45), (0.4, 5.2), (0.43, 4.95), (0.46, 4.79),
            (0.5, 4.85), (0.54, 5.0), (0.58, 5.15), (0.62, 5.25), (0.66, 5.32), (0.7, 5.35), (0.74, 5.3), (0.78, 5.05),
            (0.82, 4.75), (0.86, 4.4), (0.89, 4.1), (0.91, 3.86)]
r4a_yellow = [(0.0, 0.0), (0.01, 5.09), (0.03, 5.2), (0.05, 4.4), (0.07, 5.6), (0.1, 5.83), (0.11, 4.8), (0.12, 3.9),
              (0.13, 3.02)]

r4b_green = [(0.0, 0.0), (0.01, 6.5), (0.04, 6.5), (0.06, 5.8), (0.08, 5.1), (0.11, 5.4), (0.15, 5.8), (0.2, 6.1),
             (0.25, 6.56), (0.3, 6.3), (0.35, 6.0), (0.4, 5.85), (0.45, 5.9), (0.5, 6.4), (0.55, 6.1), (0.6, 6.25),
             (0.65, 6.5), (0.7, 6.75), (0.75, 7.0), (0.8, 7.1), (0.84, 7.23), (0.9, 7.0), (0.95, 6.9), (1.0, 6.75),
             (1.05, 6.7), (1.1, 6.95), (1.15, 7.1), (1.2, 7.25), (1.25, 7.3), (1.3, 7.2), (1.35, 7.25), (1.4, 7.15),
             (1.45, 7.05), (1.5, 7.3), (1.55, 7.25), (1.61, 7.0), (1.68, 6.41), (1.75, 6.11), (1.8, 5.7), (1.82, 5.45),
             (1.9, 5.5), (1.97, 5.45), (2.01, 5.22), (2.07, 4.93), (2.14, 4.67)]
r4b_red = [(0.0, 0.0), (0.02, 3.3), (0.04, 4.5), (0.07, 4.45), (0.1, 4.35), (0.14, 4.8), (0.18, 5.1), (0.22, 5.3),
           (0.26, 5.6), (0.3, 5.9), (0.34, 6.2), (0.38, 6.0), (0.42, 6.4), (0.45, 6.5), (0.49, 7.0), (0.52, 6.6),
           (0.55, 6.2), (0.58, 7.15), (0.62, 7.0), (0.66, 6.8), (0.7, 6.4), (0.72, 5.9), (0.74, 5.0), (0.75, 4.26)]
r4b_black = [(0.02, 4.5), (0.05, 4.35), (0.09, 4.2), (0.13, 4.11), (0.17, 4.2), (0.21, 4.35), (0.25, 4.55), (0.3, 4.8),
             (0.34, 5.2), (0.38, 5.45), (0.43, 5.7), (0.48, 5.95), (0.53, 6.05), (0.58, 6.1), (0.63, 6.2), (0.68, 6.3),
             (0.72, 6.0), (0.75, 5.9), (0.79, 6.4), (0.84, 6.5), (0.88, 6.4), (0.9, 6.0), (0.92, 5.52), (0.94, 5.9),
             (0.97, 6.78), (1.0, 6.5), (1.04, 6.4), (1.08, 6.55), (1.12, 6.65), (1.16, 6.7), (1.2, 6.6), (1.23, 6.3),
             (1.26, 5.8), (1.28, 5.45), (1.31, 4.85)]
r4b_yellow = [(0.0, 0.0), (0.01, 3.3), (0.03, 4.3), (0.06, 4.6), (0.1, 4.75), (0.14, 4.55), (0.18, 4.75), (0.22, 4.9),
              (0.27, 5.1), (0.32, 5.3), (0.37, 5.55), (0.42, 5.8), (0.47, 6.0), (0.52, 6.3), (0.57, 6.55), (0.63, 6.93),
              (0.66, 6.7), (0.7, 6.48), (0.74, 6.6), (0.77, 6.7), (0.84, 6.66), (0.89, 6.41), (0.93, 6.3),
              (0.96, 6.19), (1.0, 6.0), (1.03, 5.82), (1.1, 5.74), (1.17, 5.59), (1.24, 5.3), (1.31, 4.93),
              (1.38, 4.63), (1.44, 4.38)]
r4b_blue = [(0.0, 0.0), (0.01, 6.48), (0.05, 6.45), (0.08, 6.4), (0.11, 5.0), (0.15, 5.15), (0.2, 5.4), (0.25, 5.75),
            (0.3, 6.0), (0.35, 6.4), (0.4, 6.6), (0.45, 6.8), (0.5, 6.85), (0.56, 6.93), (0.62, 7.15), (0.68, 7.3),
            (0.74, 7.25), (0.82, 7.49), (0.88, 7.4), (0.93, 7.5), (0.98, 7.57), (1.02, 7.2), (1.05, 6.9), (1.1, 7.3),
            (1.15, 7.55), (1.2, 7.3), (1.25, 7.1), (1.3, 7.2), (1.36, 7.3), (1.42, 7.15), (1.48, 7.25), (1.53, 7.5),
            (1.58, 7.7), (1.64, 7.52), (1.7, 7.6), (1.75, 7.74), (1.82, 7.45), (1.87, 7.6), (1.92, 7.74), (1.99, 7.6),
            (2.01, 7.08), (2.08, 7.45), (2.13, 7.4), (2.18, 7.37), (2.22, 7.55), (2.27, 7.74), (2.34, 7.52),
            (2.41, 7.15), (2.48, 7.74), (2.55, 7.7), (2.6, 7.75), (2.64, 7.79), (2.68, 7.4), (2.71, 6.93), (2.74, 7.2),
            (2.78, 7.45), (2.83, 7.3), (2.88, 7.15), (2.95, 7.35), (3.01, 7.3), (3.07, 7.45), (3.12, 7.25),
            (3.16, 7.08), (3.2, 6.9), (3.25, 6.78), (3.3, 6.9), (3.35, 7.0), (3.4, 6.95), (3.44, 6.93), (3.48, 6.7),
            (3.53, 6.34), (3.58, 6.0), (3.62, 5.7), (3.65, 5.45)]

r4c_red = [(0.02, 4.65), (0.05, 4.4), (0.1, 4.2), (0.15, 4.0), (0.2, 4.05), (0.25, 4.1), (0.3, 3.85), (0.35, 3.73),
           (0.4, 4.2), (0.45, 4.3), (0.5, 4.4), (0.55, 4.5), (0.6, 4.6), (0.65, 4.65), (0.7, 4.7), (0.75, 4.8),
           (0.8, 4.9), (0.85, 5.0), (0.9, 4.9), (0.95, 4.95), (1.0, 5.05), (1.05, 5.15), (1.1, 5.25), (1.15, 5.35),
           (1.2, 5.45), (1.27, 5.53), (1.33, 5.65), (1.38, 5.75), (1.42, 5.79), (1.47, 5.82), (1.51, 5.83),
           (1.56, 5.8), (1.6, 5.7), (1.63, 5.5), (1.67, 5.25), (1.72, 4.9), (1.76, 4.7), (1.8, 4.51), (1.84, 4.25),
           (1.87, 4.01)]
r4c_black = [(0.02, 4.5), (0.05, 4.15), (0.08, 3.85), (0.11, 3.66), (0.15, 3.75), (0.2, 3.95), (0.25, 4.1), (0.3, 4.3),
             (0.35, 4.45), (0.4, 4.55), (0.45, 4.75), (0.5, 4.9), (0.55, 5.1), (0.61, 5.29), (0.66, 5.4), (0.7, 5.5),
             (0.75, 5.65), (0.79, 5.5), (0.82, 5.2), (0.85, 4.9), (0.88, 4.7), (0.91, 4.5), (0.94, 4.3), (0.97, 4.05),
             (1.01, 3.8)]
r4c_blue = [(0.02, 4.94), (0.06, 5.1), (0.1, 5.35), (0.15, 5.5), (0.2, 5.6), (0.24, 5.67), (0.27, 5.4), (0.3, 5.05),
            (0.34, 5.3), (0.38, 5.35), (0.43, 5.45), (0.47, 5.4), (0.51, 5.5), (0.55, 5.45), (0.58, 5.2), (0.62, 4.95),
            (0.66, 4.7), (0.7, 4.4), (0.74, 4.05), (0.78, 3.55)]
r4c_green = [(0.0, 0.0), (0.01, 6.07), (0.03, 5.85), (0.05, 5.0), (0.07, 4.4), (0.1, 4.0), (0.13, 3.6), (0.17, 3.23),
             (0.2, 3.7), (0.24, 3.85), (0.28, 3.9), (0.33, 4.05), (0.38, 4.2), (0.43, 4.35), (0.47, 4.4), (0.47, 3.8),
             (0.46, 2.88)]
r4c_yellow = [(0.0, 0.0), (0.01, 5.36), (0.03, 5.5), (0.06, 5.1), (0.09, 4.8), (0.12, 4.4), (0.16, 4.55), (0.2, 4.7),
              (0.25, 4.6), (0.3, 4.3), (0.35, 4.6), (0.4, 4.55), (0.45, 4.62), (0.5, 4.68), (0.55, 4.75), (0.6, 4.85),
              (0.65, 5.0), (0.7, 5.15), (0.75, 5.3), (0.8, 5.38), (0.85, 5.45), (0.9, 5.52), (0.94, 5.57), (0.99, 5.4),
              (1.03, 5.2), (1.08, 4.79), (1.14, 4.5), (1.2, 4.2), (1.26, 3.95), (1.32, 3.66)]

LABELS = ["材齢１週", "材齢１週", "材齢１週",
          "材齢４週", "材齢４週", "材齢４週",
          "材齢3ヶ月", "材齢３ヶ月", "材齢３ヶ月",
          "材齢６ヶ月", "材齢６ヶ月", "材齢６ヶ月"]

CURVES = [
    [(r1a_green, GREEN), (r1a_black, BLACK), (r1a_yellow, YELLOW), (r1a_red, RED), (r1a_blue, BLUE)],
    [(r1b_black, BLACK), (r1b_yellow, YELLOW), (r1b_green, GREEN), (r1b_red, RED), (r1b_blue, BLUE)],
    [(r1c_red, RED), (r1c_black, BLACK), (r1c_green, GREEN), (r1c_yellow, YELLOW), (r1c_blue, BLUE)],
    [(r2a_green, GREEN), (r2a_red, RED), (r2a_black, BLACK), (r2a_yellow, YELLOW), (r2a_blue, BLUE)],
    [(r2b_black, BLACK), (r2b_red, RED), (r2b_yellow, YELLOW), (r2b_green, GREEN), (r2b_blue, BLUE)],
    [(r2c_black, BLACK), (r2c_red, RED), (r2c_green, GREEN), (r2c_yellow, YELLOW), (r2c_blue, BLUE)],
    [(r3a_black, BLACK), (r3a_yellow, YELLOW), (r3a_blue, BLUE), (r3a_red, RED), (r3a_green, GREEN)],
    [(r3b_yellow, YELLOW), (r3b_black, BLACK), (r3b_green, GREEN), (r3b_red, RED), (r3b_blue, BLUE)],
    [(r3c_black, BLACK), (r3c_blue, BLUE), (r3c_red, RED), (r3c_green, GREEN), (r3c_yellow, YELLOW)],
    [(r4a_black, BLACK), (r4a_green, GREEN), (r4a_red, RED), (r4a_blue, BLUE), (r4a_yellow, YELLOW)],
    [(r4b_black, BLACK), (r4b_red, RED), (r4b_green, GREEN), (r4b_yellow, YELLOW), (r4b_blue, BLUE)],
    [(r4c_red, RED), (r4c_black, BLACK), (r4c_blue, BLUE), (r4c_yellow, YELLOW), (r4c_green, GREEN)],
]

# axes boxes in pixels (left, top, right, bottom) and label anchor in axes fraction
BOXES = [(60, 15, 413, 242), (474, 13, 829, 241), (896, 18, 1246, 251),
         (62, 281, 413, 508), (475, 282, 829, 508), (896, 289, 1246, 510),
         (62, 549, 413, 780), (475, 556, 830, 782), (893, 546, 1246, 778),
         (63, 820, 413, 1048), (475, 823, 832, 1050), (894, 815, 1244, 1052)]
LABEL_POS = [(0.028, 0.90), (0.025, 0.90), (0.04, 0.885),
             (0.037, 0.905), (0.025, 0.903), (0.02, 0.905),
             (0.028, 0.908), (0.03, 0.894), (0.023, 0.897),
             (0.026, 0.895), (0.036, 0.885), (0.023, 0.903)]

TICK_FONT = ['Liberation Sans Narrow', 'Liberation Sans', 'DejaVu Sans']

fig = plt.figure(figsize=(W / 100, H / 100), dpi=100)

for i, (x0, y0, x1, y1) in enumerate(BOXES):
    ax = fig.add_axes([x0 / W, 1 - y1 / H, (x1 - x0) / W, (y1 - y0) / H])
    ax.set_xlim(0, 5)
    ax.set_ylim(0, 10)
    ax.set_xticks(range(0, 6))
    ax.set_yticks(range(0, 11, 2))
    ax.grid(True, color='#333333', linewidth=1.0)
    ax.set_axisbelow(True)
    for sp in ax.spines.values():
        sp.set_linewidth(1.6)
        sp.set_color('black')
    ax.tick_params(length=0, pad=7, labelsize=10.5)
    for lab in ax.get_xticklabels() + ax.get_yticklabels():
        lab.set_family(TICK_FONT)

    for pts, col in CURVES[i]:
        xs = [p[0] for p in pts]
        ys = [p[1] for p in pts]
        ax.plot(xs, ys, color=col, linewidth=2.0, solid_joinstyle='round')

    lx, ly = LABEL_POS[i]
    ax.text(lx, ly, LABELS[i], transform=ax.transAxes, fontsize=12.5, va='center', ha='left')
    ax.set_ylabel('応力 (N/mm$^2$)', fontsize=9.5, labelpad=3)
    if i >= 9:
        ax.set_xlabel('ひずみ (%)', fontsize=10.5, labelpad=6)

fig.savefig('out.png', dpi=100)
